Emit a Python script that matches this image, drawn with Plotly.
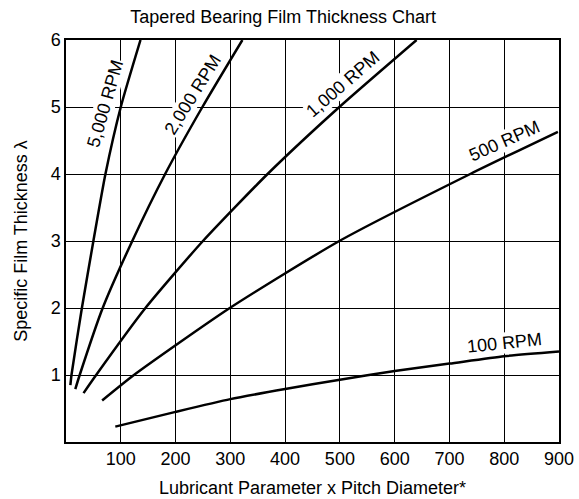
import plotly.graph_objects as go

# ---- data ----
x_5000 = [8, 10, 29, 50, 72, 100, 136]
y_5000 = [0.85, 1, 2, 3, 4, 5, 6]

x_2000 = [17, 25, 67, 121, 181, 249, 322]
y_2000 = [0.79, 1, 2, 3, 4, 5, 6]

x_1000 = [32, 55, 145, 250, 368, 499, 640]
y_1000 = [0.73, 1, 2, 3, 4, 5, 6]

x_500 = [66, 124, 299, 499, 738, 898]
y_500 = [0.62, 1, 2, 3, 4, 4.63]

x_100 = [90, 200, 300, 400, 500, 600, 700, 800, 900]
y_100 = [0.23, 0.45, 0.64, 0.79, 0.93, 1.06, 1.17, 1.28, 1.35]

series_names = ["5,000 RPM", "2,000 RPM", "1,000 RPM", "500 RPM", "100 RPM"]

x_tickvals = [100, 200, 300, 400, 500, 600, 700, 800, 900]
x_ticktext = ["100", "200", "300", "400", "500", "600", "700", "800", "900"]
y_tickvals = [1, 2, 3, 4, 5, 6]
y_ticktext = ["1", "2", "3", "4", "5", "6"]

# label placement (x, y, angle) for each curve label
label_pos = [(71, 5.05, -74), (231, 5.18, -58), (506, 5.34, -41), (800, 4.49, -24), (800, 1.48, -6)]

FONT = "Liberation Sans, Arial, Helvetica, sans-serif"

fig = go.Figure()
for name, xs, ys in zip(series_names,
                        [x_5000, x_2000, x_1000, x_500, x_100],
                        [y_5000, y_2000, y_1000, y_500, y_100]):
    fig.add_trace(go.Scatter(x=xs, y=ys, mode="lines", name=name,
                             line=dict(color="black", width=2.5, shape="spline", smoothing=0.6),
                             showlegend=False, hoverinfo="x+y+name"))

for name, (lx, ly, ang) in zip(series_names, label_pos):
    fig.add_annotation(x=lx, y=ly, xref="x", yref="y", text=name, showarrow=False,
                       textangle=ang, bgcolor="white", borderpad=0,
                       font=dict(family=FONT, size=18, color="black"))

fig.update_layout(
    width=579, height=499,
    margin=dict(l=66, r=20, t=40, b=57),
    paper_bgcolor="white", plot_bgcolor="white",
    font=dict(family=FONT, size=18, color="black"),
    title=dict(text="Tapered Bearing Film Thickness Chart", x=0.489, xanchor="center",
               y=1 - 17 / 499, yanchor="middle", yref="container",
               font=dict(family=FONT, size=18, color="black")),
)
fig.update_xaxes(range=[0, 900], tickvals=x_tickvals, ticktext=x_ticktext,
                 showgrid=True, gridcolor="black", gridwidth=1,
                 showline=True, linecolor="black", linewidth=1.5, mirror=True,
                 ticks="", zeroline=False, automargin=False,
                 tickfont=dict(family=FONT, size=18, color="black"),
                 title=dict(text="Lubricant Parameter x Pitch Diameter*", standoff=13,
                            font=dict(family=FONT, size=18, color="black")))
fig.update_yaxes(range=[0, 6], tickvals=y_tickvals, ticktext=y_ticktext,
                 showgrid=True, gridcolor="black", gridwidth=1,
                 showline=True, linecolor="black", linewidth=1.5, mirror=True,
                 ticks="", zeroline=False, automargin=False,
                 tickfont=dict(family=FONT, size=18, color="black"),
                 title=dict(text="Specific Film Thickness λ", standoff=18,
                            font=dict(family=FONT, size=18, color="black")))

fig.write_html("out.html", config={"displayModeBar": False},
               post_script="document.body.style.margin='0';document.body.style.overflow='hidden';")
